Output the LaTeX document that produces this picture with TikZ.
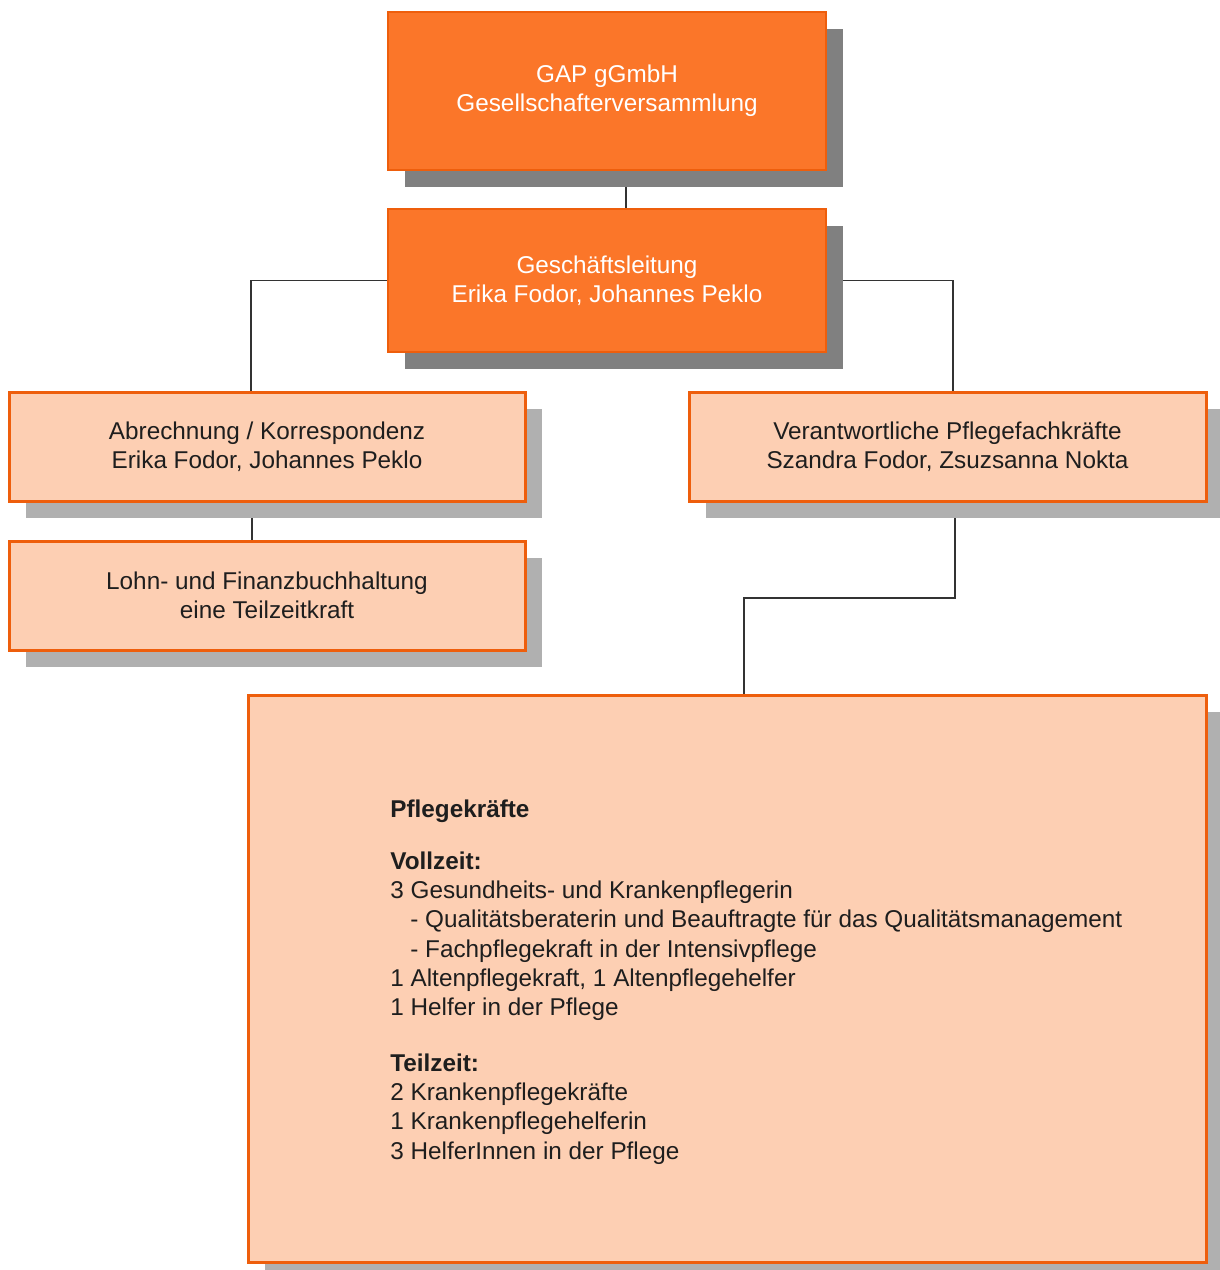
\documentclass[tikz,border=0pt]{standalone}
\usepackage{fontspec}
\setmainfont{Liberation Sans}
\usetikzlibrary{shadows,backgrounds}

\definecolor{orgdark}{HTML}{FB7629}
\definecolor{orgline}{HTML}{EE5E0C}
\definecolor{orglight}{HTML}{FDCFB3}
\definecolor{shadowdark}{HTML}{808080}
\definecolor{shadowlight}{HTML}{B0B0B0}
\definecolor{textdark}{HTML}{1E1E1E}

\tikzset{
    topbox/.style={draw=orgline, line width=1.2pt, fill=orgdark, text=white, align=center,
        minimum width=219pt,
        drop shadow={shadow xshift=8.5pt, shadow yshift=-8.5pt, fill=shadowdark, opacity=1}},
    subbox/.style={draw=orgline, line width=1.5pt, fill=orglight, text=textdark, align=center,
        minimum width=258pt, minimum height=54.5pt,
        drop shadow={shadow xshift=8.5pt, shadow yshift=-8.5pt, fill=shadowlight, opacity=1}},
    link/.style={draw=black!80, line width=0.7pt},
}

\begin{document}
\begin{tikzpicture}[x=0.5pt, y=-0.5pt, font=\fontsize{12.15pt}{14.6pt}\selectfont]

    % Page frame (pixel grid of the original)
    \useasboundingbox (0,0) rectangle (1220,1270);

    % Leitung
    \node[topbox, minimum height=79pt]   (gap) at (607,91)    {GAP gGmbH\\Gesellschafterversammlung};
    \node[topbox, minimum height=71.5pt] (gl)  at (607,280.5) {Geschäftsleitung\\Erika Fodor, Johannes Peklo};

    % Verwaltung, links
    \node[subbox] (abr)  at (267,446.5) {Abrechnung / Korrespondenz\\Erika Fodor, Johannes Peklo};
    \node[subbox] (lohn) at (267,595.5) {Lohn- und Finanzbuchhaltung\\eine Teilzeitkraft};

    % Pflege, rechts
    \node[subbox, minimum width=258.5pt] (vpf) at (947.5,446.5) {Verantwortliche Pflegefachkräfte\\Szandra Fodor, Zsuzsanna Nokta};
    \node[subbox, minimum width=479pt, minimum height=283.5pt] (pflege) at (727,978.5) {};
    \node[anchor=west, align=left, text=textdark, inner sep=0pt] (pflegetext) at (390,982) {%
        \textbf{Pflegekräfte}\\[11.4pt]
        \textbf{Vollzeit:}\\
        3 Gesundheits- und Krankenpflegerin\\
        \hspace*{10pt}- Qualitätsberaterin und Beauftragte für das Qualitätsmanagement\\
        \hspace*{10pt}- Fachpflegekraft in der Intensivpflege\\
        1 Altenpflegekraft, 1 Altenpflegehelfer\\
        1 Helfer in der Pflege\\[13.4pt]
        \textbf{Teilzeit:}\\
        2 Krankenpflegekräfte\\
        1 Krankenpflegehelferin\\
        3 HelferInnen in der Pflege};

    % Connectors
    \coordinate (knick) at (955,598);
    \begin{scope}[on background layer]
        \draw[link, line width=1.2pt] ([xshift=9.5pt]gap.south) -- ([xshift=9.5pt]gl.north);
        \draw[link] (gl.west) -| ([xshift=-8pt]abr.north);
        \draw[link] (gl.east) -| ([xshift=2.75pt]vpf.north);
        \draw[link] ([xshift=-7.5pt]abr.south) -- ([xshift=-7.5pt]lohn.north);
        \draw[link] ([xshift=3.75pt]vpf.south) -- (knick) -| ([xshift=8.5pt]pflege.north);
    \end{scope}

\end{tikzpicture}
\end{document}
